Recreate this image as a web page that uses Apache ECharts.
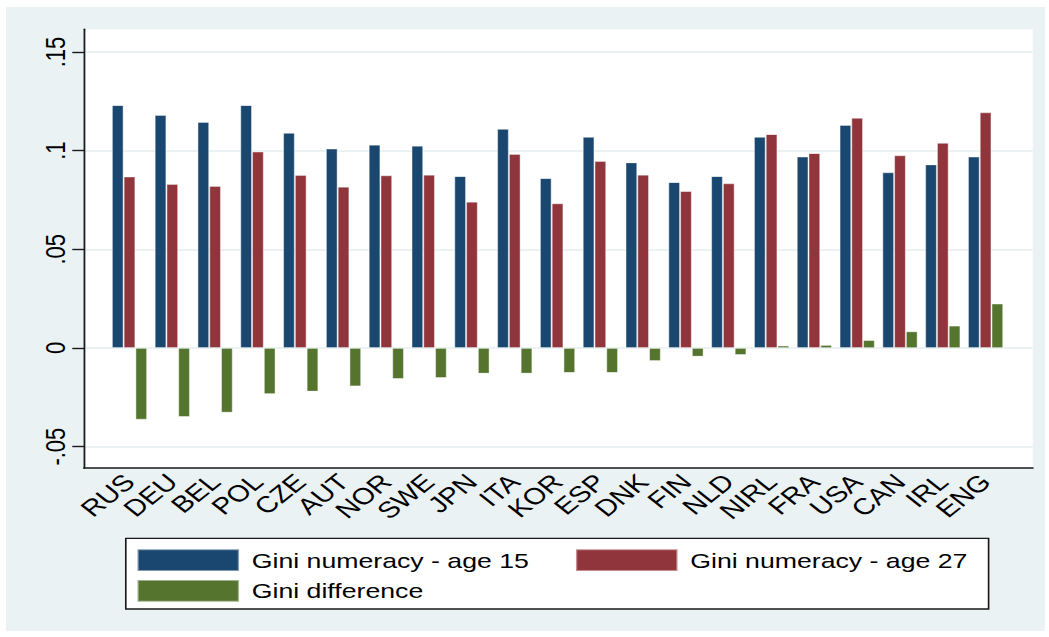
<!DOCTYPE html>
<html>
<head>
<meta charset="utf-8">
<script src="https://cdn.jsdelivr.net/npm/echarts@6/dist/echarts.min.js"></script>
<style>
  html, body { margin: 0; padding: 0; background: #ffffff; }
  body { width: 1049px; height: 637px; position: relative; overflow: hidden; }
  #bg { position: absolute; left: 6px; top: 7px; width: 1039px; height: 624px; background: #eaf2f3; }
  #chart { position: absolute; left: 0; top: 0; height: 637px; transform-origin: 0 0; }
</style>
</head>
<body>
<div id="bg"></div>
<div id="chart"></div>
<script>
// Countries, in plotting order
const countries = ['RUS', 'DEU', 'BEL', 'POL', 'CZE', 'AUT', 'NOR', 'SWE', 'JPN', 'ITA', 'KOR',
                   'ESP', 'DNK', 'FIN', 'NLD', 'NIRL', 'FRA', 'USA', 'CAN', 'IRL', 'ENG'];

// Gini coefficient of numeracy scores at age 15
const giniAge15 = [0.1230, 0.1180, 0.1145, 0.1230, 0.1090, 0.1010, 0.1030, 0.1025, 0.0870, 0.1110, 0.0860,
                   0.1070, 0.0940, 0.0840, 0.0870, 0.1070, 0.0970, 0.1130, 0.0890, 0.0930, 0.0970];

// Gini coefficient of numeracy scores at age 27
const giniAge27 = [0.0868, 0.0830, 0.0820, 0.0995, 0.0876, 0.0817, 0.0875, 0.0878, 0.0741, 0.0982, 0.0733,
                   0.0947, 0.0878, 0.0795, 0.0834, 0.1083, 0.0987, 0.1166, 0.0976, 0.1039, 0.1194];

// Change in Gini between the two ages
const giniDiff = [-0.0363, -0.0349, -0.0327, -0.0233, -0.0220, -0.0194, -0.0156, -0.0151, -0.0129, -0.0129, -0.0125,
                  -0.0125, -0.0065, -0.0043, -0.0035, 0.0012, 0.0015, 0.0040, 0.0084, 0.0113, 0.0225];

// Y axis ticks and their labels
const yTickValues = [-0.05, 0, 0.05, 0.1, 0.15];
const yTickLabels = ['-.05', '0', '.05', '.1', '.15'];

const seriesNames = ['Gini numeracy - age 15', 'Gini numeracy - age 27', 'Gini difference'];
const seriesColors = ['#1a476f', '#90353b', '#55752f'];

// The graph is laid out on a narrower canvas and widened horizontally.
const SX = 1.27;
const W = 1049, H = 637;
const X = v => v / SX;            // page x -> layout x
const chartW = W / SX;

const el = document.getElementById('chart');
el.style.width = chartW + 'px';
el.style.transform = 'scaleX(' + SX + ')';

const Y_MIN = -0.0608, Y_MAX = 0.1615;
const FONT = '"Liberation Sans", Arial, Helvetica, sans-serif';

const plotLeft = 84, plotRight = 1032.7, plotTop = 29.3, plotBottom = 468;
const barsLeft = 108.1, barsRight = 1007;

const chart = echarts.init(el, null, { renderer: 'svg', width: chartW, height: H });

function tickLabel(v) {
  let best = 0;
  for (let i = 1; i < yTickValues.length; i++) {
    if (Math.abs(yTickValues[i] - v) < Math.abs(yTickValues[best] - v)) best = i;
  }
  return yTickLabels[best];
}

const barStyle = i => ({
  color: seriesColors[i],
  borderColor: 'rgba(255,255,255,0.45)',
  borderWidth: 0.8
});

chart.setOption({
  animation: false,
  backgroundColor: 'transparent',
  textStyle: { fontFamily: FONT },
  grid: [
    { // plot frame: white region, y axis, gridlines, bottom axis line
      left: X(plotLeft), right: chartW - X(plotRight), top: plotTop, bottom: H - plotBottom,
      show: true, backgroundColor: '#ffffff', borderWidth: 0
    },
    { // bars
      left: X(barsLeft), right: chartW - X(barsRight), top: plotTop, bottom: H - plotBottom
    }
  ],
  xAxis: [
    {
      gridIndex: 0, type: 'value', min: 0, max: 1,
      axisLine: { show: true, onZero: false, lineStyle: { color: '#1a1a1a', width: 1.7 } },
      axisTick: { show: false }, axisLabel: { show: false }, splitLine: { show: false }
    },
    {
      gridIndex: 1, type: 'category', data: countries,
      axisLine: { show: false, onZero: false },
      axisTick: { show: false },
      axisLabel: {
        interval: 0, rotate: 45, margin: 10,
        color: '#000000', fontSize: 23, fontFamily: FONT
      }
    }
  ],
  yAxis: [
    {
      gridIndex: 0, type: 'value', min: Y_MIN, max: Y_MAX,
      axisLine: { show: true, lineStyle: { color: '#1a1a1a', width: 1.4 } },
      axisTick: {
        show: true, length: X(11.7), customValues: yTickValues,
        lineStyle: { color: '#1a1a1a', width: 1.4 }
      },
      axisLabel: {
        customValues: yTickValues, rotate: 90, margin: 12,
        color: '#000000', fontSize: 22, fontFamily: FONT,
        formatter: tickLabel
      },
      splitLine: { show: true, lineStyle: { color: '#eaf2f3', width: 2 } }
    },
    {
      gridIndex: 1, type: 'value', min: Y_MIN, max: Y_MAX, show: false,
      splitLine: { show: false }
    }
  ],
  legend: [
    {
      data: [seriesNames[0], seriesNames[1]],
      left: X(136.2), top: 548.3, orient: 'horizontal',
      icon: 'rect', itemWidth: X(101.6), itemHeight: 21.7, itemGap: 36,
      padding: 0,
      textStyle: { color: '#000000', fontSize: 21, fontFamily: FONT, padding: [0, 0, 0, 5] }
    },
    {
      data: [seriesNames[2]],
      left: X(136.2), top: 579, orient: 'horizontal',
      icon: 'rect', itemWidth: X(101.6), itemHeight: 21.7,
      padding: 0,
      textStyle: { color: '#000000', fontSize: 21, fontFamily: FONT, padding: [0, 0, 0, 5] }
    }
  ],
  graphic: [
    {
      type: 'rect', z: -1, silent: true,
      shape: { x: X(125.8), y: 538.3, width: X(988.6 - 125.8), height: 70.7 },
      style: { fill: '#ffffff', stroke: '#1a1a1a', lineWidth: 1.3 }
    }
  ],
  series: [
    { name: seriesNames[0], type: 'bar', xAxisIndex: 1, yAxisIndex: 1, data: giniAge15,
      barGap: '0%', barCategoryGap: '17.5%', itemStyle: barStyle(0) },
    { name: seriesNames[1], type: 'bar', xAxisIndex: 1, yAxisIndex: 1, data: giniAge27,
      barGap: '0%', barCategoryGap: '17.5%', itemStyle: barStyle(1) },
    { name: seriesNames[2], type: 'bar', xAxisIndex: 1, yAxisIndex: 1, data: giniDiff,
      barGap: '0%', barCategoryGap: '17.5%', itemStyle: barStyle(2) }
  ]
});
</script>
</body>
</html>
